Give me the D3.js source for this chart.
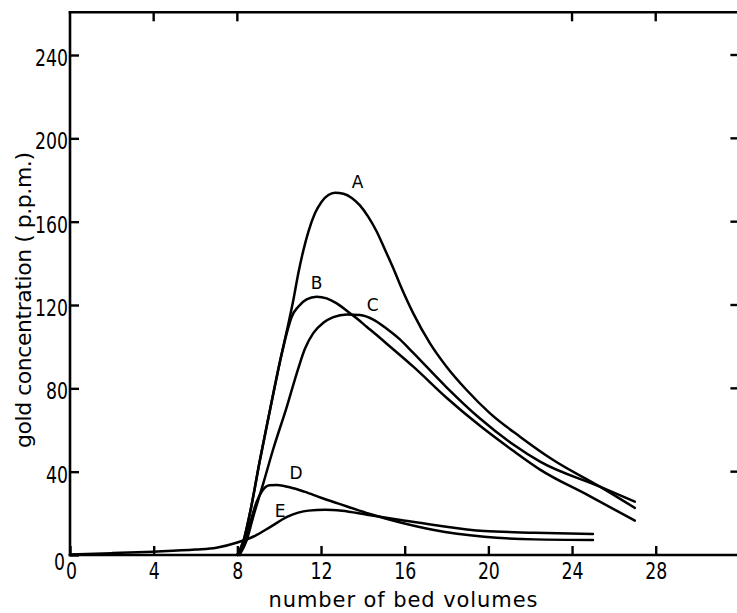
<!DOCTYPE html>
<html>
<head>
<meta charset="utf-8">
<script src="https://cdn.jsdelivr.net/npm/d3@7/dist/d3.min.js"></script>
<style>
  html, body { margin: 0; padding: 0; background: #fff; }
  svg { display: block; }
  text { font-family: "DejaVu Sans", sans-serif; fill: #000; }
  .tick text { font-family: "DejaVu Sans Condensed", "DejaVu Sans", sans-serif; }
</style>
</head>
<body>
<svg id="chart" width="737" height="613"></svg>
<script>
// Elution curves: gold concentration vs. number of bed volumes
const bedA  = [8.0, 8.3, 8.6, 9.08, 9.56, 10.04, 10.44, 10.67, 10.91, 11.15, 11.39, 11.71, 12.03, 12.35, 12.67, 13.07, 13.47, 13.86, 14.26, 14.66, 15.06, 15.46, 15.77, 16.41, 17.21, 18.0, 18.96, 20.08, 21.51, 23.1, 25.33, 27.0];
const concA = [0, 7, 20, 45.6, 69.6, 93, 111, 122, 135, 146, 155, 164, 169.6, 172.8, 173.9, 173.4, 171.4, 167.8, 162.3, 155.3, 146.5, 137.5, 130, 116, 101.6, 90.4, 79.2, 68, 56.8, 45.6, 32.8, 22.6];

const bedB  = [8.0, 8.3, 8.6, 9.08, 9.56, 10.04, 10.36, 10.6, 10.91, 11.31, 11.79, 12.27, 12.75, 13.23, 13.7, 14.18, 14.66, 15.14, 15.77, 16.41, 18.0, 19.6, 21.19, 22.47, 24.8, 27.0];
const concB = [0, 7, 20, 45.6, 69.6, 93, 106.4, 114.4, 119.2, 122.7, 124, 123.2, 120.8, 117.3, 113.6, 109.6, 105.6, 101.4, 96, 90.4, 75.5, 62, 50, 41, 28.5, 16.5];

const bedC  = [8.1, 8.45, 8.76, 9.24, 9.72, 10.36, 10.91, 11.23, 11.63, 12.11, 12.59, 13.23, 13.86, 14.5, 15.14, 15.77, 16.41, 18.0, 19.6, 21.19, 22.47, 25.33, 27.0];
const concC = [0, 7.2, 18.4, 34.4, 51, 71, 89.5, 99, 106.5, 111.5, 114.2, 115.5, 115.2, 113, 108.6, 103.5, 97, 80.5, 65.5, 53, 44.8, 32.8, 25.6];

const bedD  = [8.0, 8.3, 8.6, 8.9, 9.2, 9.55, 9.9, 10.5, 11.2, 12.0, 12.8, 14.3, 15.8, 17.4, 19.8, 22.2, 25.0];
const concD = [0, 6, 15, 25, 31, 33.5, 33.6, 32.5, 30.4, 27.5, 24.8, 19.8, 15.6, 12, 8.8, 7.5, 7.2];

const bedE  = [0, 2, 4, 6, 7, 8, 8.8, 9.6, 10.4, 11.4, 12.2, 13.0, 14.2, 15.8, 17.4, 19.8, 22.2, 25.0];
const concE = [0.3, 0.9, 1.6, 2.6, 3.5, 6, 9, 13.6, 18.4, 21.3, 21.7, 21.2, 19.3, 16.8, 14.4, 11.5, 10.7, 10.1];

const curveNames = ["A", "B", "C", "D", "E"];
const labelBed   = [13.75, 11.79, 14.47, 10.8, 10.04];
const labelConc  = [179.2, 130.4, 120.0, 39.2, 21.3];

const xTicks    = [0, 4, 8, 12, 16, 20, 24, 28];
const topTicks  = [4, 8, 24, 28];
const yTicks    = [0, 40, 80, 120, 160, 200, 240];

const xTitle = "number of bed volumes";
const yTitle = "gold concentration ( p.p.m.)";

const svg = d3.select("#chart");
const x = d3.scaleLinear().domain([0, 32]).range([70, 739.4]);
const y = d3.scaleLinear().domain([0, 260.5]).range([555, 12.3]);

const ink = "#000";
const tickLen = 9;
const digitWidth = 11;

// frame: left, bottom and top lines
const frame = svg.append("g").attr("stroke", ink).attr("stroke-width", 2.6).attr("fill", "none");
frame.append("line").attr("x1", x(0)).attr("x2", x(0)).attr("y1", y(260.5) - 1).attr("y2", y(0) + 1.3);
frame.append("line").attr("x1", x(0) - 1.3).attr("x2", x(32)).attr("y1", y(0)).attr("y2", y(0));
frame.append("line").attr("x1", x(0) - 1.3).attr("x2", x(32)).attr("y1", y(260.5)).attr("y2", y(260.5));

// bottom axis (ticks point inward)
const xAxis = d3.axisBottom(x).tickValues(xTicks).tickSize(-tickLen).tickPadding(tickLen + 4).tickFormat(d3.format("d"));
const gx = svg.append("g").attr("transform", `translate(0,${y(0)})`).call(xAxis);
gx.select(".domain").remove();
gx.selectAll(".tick line").attr("stroke", ink).attr("stroke-width", 2.4);
gx.selectAll(".tick text").attr("font-size", 23).attr("dy", "0.72em").attr("y", 7.5);

// left axis (ticks point inward)
const yAxis = d3.axisLeft(y).tickValues(yTicks).tickSize(-tickLen).tickPadding(3).tickFormat(d3.format("d"));
const gy = svg.append("g").attr("transform", `translate(${x(0)},0)`).call(yAxis);
gy.select(".domain").remove();
gy.selectAll(".tick line").attr("stroke", ink).attr("stroke-width", 2.4);
gy.selectAll(".tick text").attr("font-size", 23).attr("dy", "0.45em").attr("x", -2);
gy.selectAll(".tick").filter(d => d === 0).select("text").attr("x", -5).attr("dy", "0.65em");
gx.selectAll(".tick").filter(d => d === 0).select("text").attr("dx", 1);

// narrow the tick numerals
svg.selectAll(".tick text")
  .attr("textLength", function () { return this.textContent.length * digitWidth; })
  .attr("lengthAdjust", "spacingAndGlyphs");

// top ticks and right ticks
svg.append("g").selectAll("line").data(topTicks).join("line")
  .attr("x1", d => x(d)).attr("x2", d => x(d))
  .attr("y1", y(260.5)).attr("y2", y(260.5) + tickLen)
  .attr("stroke", ink).attr("stroke-width", 2.4);
svg.append("g").selectAll("line").data(yTicks.filter(d => d > 0)).join("line")
  .attr("x1", x(32)).attr("x2", x(32) - tickLen)
  .attr("y1", d => y(d)).attr("y2", d => y(d))
  .attr("stroke", ink).attr("stroke-width", 2.4);

// curves
const series = [
  [bedA, concA], [bedB, concB], [bedC, concC], [bedD, concD], [bedE, concE]
].map(([bx, cy]) => bx.map((b, i) => [b, cy[i]]));

const line = d3.line()
  .x(d => x(d[0]))
  .y(d => y(d[1]))
  .curve(d3.curveMonotoneX);

svg.append("g").selectAll("path").data(series).join("path")
  .attr("d", line)
  .attr("fill", "none")
  .attr("stroke", ink)
  .attr("stroke-width", 2.5)
  .attr("stroke-linejoin", "round")
  .attr("stroke-linecap", "round");

// curve labels
svg.append("g").selectAll("text").data(curveNames).join("text")
  .attr("x", (d, i) => x(labelBed[i]))
  .attr("y", (d, i) => y(labelConc[i]))
  .attr("text-anchor", "middle")
  .attr("dominant-baseline", "central")
  .attr("font-size", 17)
  .text(d => d);

// axis titles
svg.append("text")
  .attr("x", 403).attr("y", 607)
  .attr("text-anchor", "middle")
  .attr("font-size", 21)
  .attr("textLength", 269)
  .attr("lengthAdjust", "spacing")
  .text(xTitle);

svg.append("text")
  .attr("transform", "translate(31,300) rotate(-90)")
  .attr("text-anchor", "middle")
  .attr("font-size", 22)
  .attr("textLength", 296)
  .attr("lengthAdjust", "spacing")
  .text(yTitle);
</script>
</body>
</html>
